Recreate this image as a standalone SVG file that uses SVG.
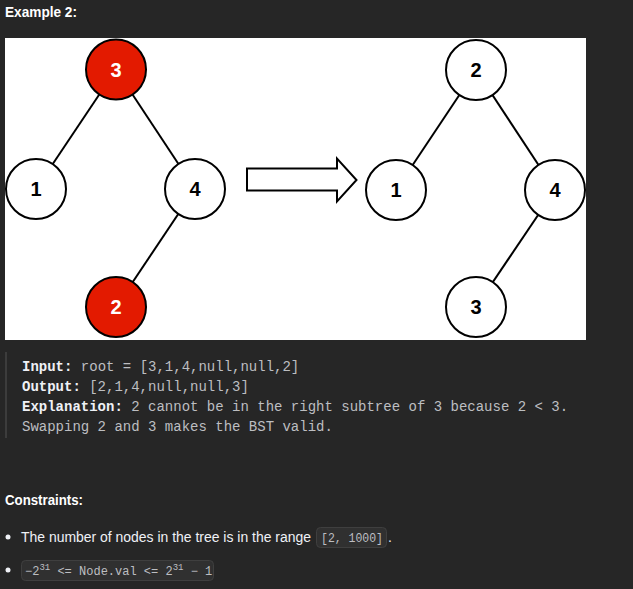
<svg xmlns="http://www.w3.org/2000/svg" width="633" height="589" viewBox="0 0 633 589">
<style>
.bg{fill:#262626}
.edge{stroke:#000;stroke-width:2;fill:none}
.node{fill:#fff;stroke:#000;stroke-width:2}
.red{fill:#e31a00;stroke:#000;stroke-width:2}
.num{font-family:"Liberation Sans",Arial,sans-serif;font-weight:bold;font-size:20px;text-anchor:middle;fill:#000}
.numw{fill:#fff}
.h{font-family:"Liberation Sans",Arial,sans-serif;font-weight:bold;font-size:14px;fill:#fff}
.mono{font-family:"Liberation Mono","DejaVu Sans Mono",monospace;font-size:14px;fill:#bdbec1}
.lab{font-weight:bold;fill:#eff1f6}
.body{font-family:"Liberation Sans",Arial,sans-serif;font-size:14px;fill:#eff1f6}
.code{fill:#303030;stroke:#3f3f3f;stroke-width:1}
.ctext{font-family:"Liberation Mono","DejaVu Sans Mono",monospace;font-size:12px;fill:#bdbec1}
</style>
<rect class="bg" x="0" y="0" width="633" height="589"/>
<text class="h" x="5" y="17" textLength="72" lengthAdjust="spacingAndGlyphs">Example 2:</text>
<rect x="5" y="38" width="581" height="302" fill="#fff"/>
<g id="connectors">
<line class="edge" x1="116" y1="69.5" x2="36" y2="189"/>
<line class="edge" x1="116" y1="69.5" x2="195" y2="189"/>
<line class="edge" x1="195" y1="189" x2="116" y2="307"/>
<line class="edge" x1="476" y1="70" x2="396" y2="190"/>
<line class="edge" x1="476" y1="70" x2="555" y2="190"/>
<line class="edge" x1="555" y1="190" x2="476" y2="307"/>
</g>
<g id="arrow">
<polygon class="node" points="247,168.5 337,168.5 337,158.5 356.5,180 337,201.5 337,190.5 247,190.5"/>
</g>
<g id="L3"><circle class="red" cx="116" cy="69.5" r="30"/><text class="num numw" x="116" y="76.5">3</text></g>
<g id="L1"><circle class="node" cx="36" cy="189" r="30"/><text class="num" x="36" y="196">1</text></g>
<g id="L4"><circle class="node" cx="195" cy="189" r="30"/><text class="num" x="195" y="196">4</text></g>
<g id="L2"><circle class="red" cx="116" cy="307" r="30"/><text class="num numw" x="116" y="314">2</text></g>
<g id="R2"><circle class="node" cx="476" cy="70" r="30"/><text class="num" x="476" y="77">2</text></g>
<g id="R1"><circle class="node" cx="396" cy="190" r="30"/><text class="num" x="396" y="197">1</text></g>
<g id="R4"><circle class="node" cx="555" cy="190" r="30"/><text class="num" x="555" y="197">4</text></g>
<g id="R3"><circle class="node" cx="476" cy="307" r="30"/><text class="num" x="476" y="314">3</text></g>
<rect x="5" y="352" width="2" height="86" fill="#3c3c3c"/>
<text class="mono" x="22" y="371"><tspan class="lab">Input:</tspan> root = [3,1,4,null,null,2]</text>
<text class="mono" x="22" y="391"><tspan class="lab">Output:</tspan> [2,1,4,null,null,3]</text>
<text class="mono" x="22" y="411"><tspan class="lab">Explanation:</tspan> 2 cannot be in the right subtree of 3 because 2 &lt; 3.</text>
<text class="mono" x="22" y="431">Swapping 2 and 3 makes the BST valid.</text>
<text class="h" x="5" y="505" textLength="78" lengthAdjust="spacingAndGlyphs">Constraints:</text>
<circle cx="8" cy="537" r="2.5" fill="#eff1f6"/>
<text class="body" x="21" y="542" textLength="290" lengthAdjust="spacingAndGlyphs">The number of nodes in the tree is in the range</text>
<rect class="code" x="316.5" y="527.5" width="70" height="20" rx="4"/>
<text class="ctext" x="321" y="542" textLength="62" lengthAdjust="spacingAndGlyphs">[2, 1000]</text>
<text class="body" x="388" y="542">.</text>
<circle cx="8" cy="570" r="2.5" fill="#eff1f6"/>
<rect class="code" x="21.5" y="560.5" width="192" height="20" rx="4"/>
<text class="ctext" x="25" y="575">−2<tspan font-size="9" dy="-5">31</tspan><tspan dy="5"> &lt;= Node.val &lt;= 2</tspan><tspan font-size="9" dy="-5">31</tspan><tspan dy="5"> − 1</tspan></text>
</svg>
